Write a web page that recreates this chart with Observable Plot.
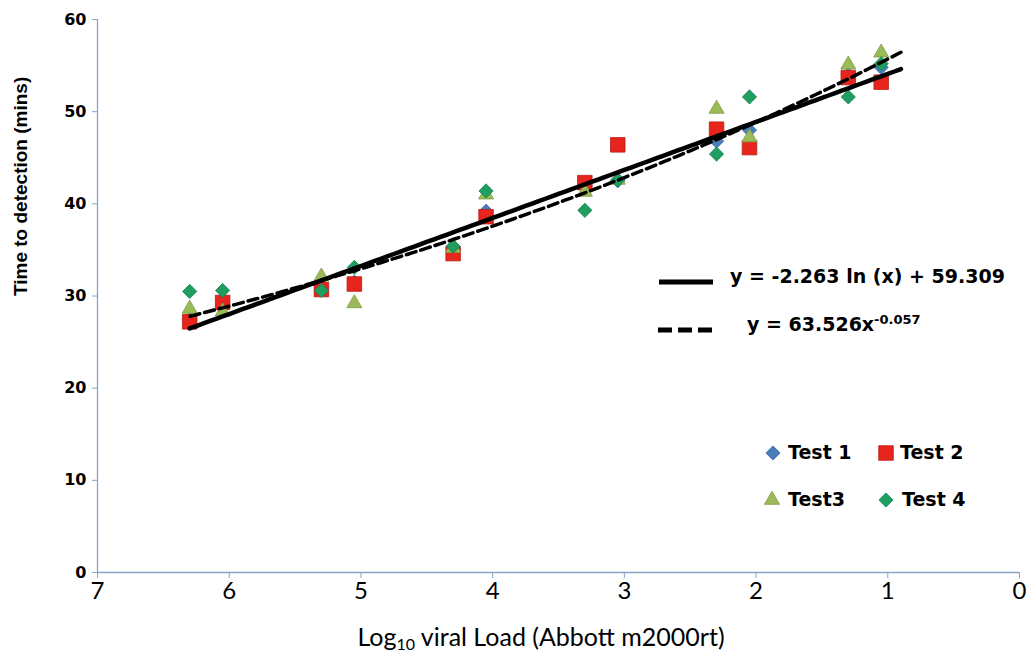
<!DOCTYPE html>
<html>
<head>
<meta charset="utf-8">
<script src="https://cdn.jsdelivr.net/npm/d3@7"></script>
<script src="https://cdn.jsdelivr.net/npm/@observablehq/plot@0.6"></script>
<style>
  body { margin: 0; background: #fff; }
  #chart { position: relative; width: 1026px; height: 653px; }
  .ov { position: absolute; white-space: nowrap; color: #000; line-height: 1; }
  .eq, .lg { font-family: "DejaVu Sans", sans-serif; font-weight: bold; font-size: 19px; }
  .eq sup { font-size: 13px; position: relative; top: -2px; vertical-align: top; }
  .xlabel { font-family: Lato, "Open Sans", sans-serif; font-size: 25px; transform: translateX(-50%); }
  .xlabel sub { font-size: 16px; vertical-align: -4px; }
</style>
</head>
<body>
<div id="chart"></div>
<script>
// Log10 viral load of each dilution (Abbott m2000rt)
const logLoad = [6.3, 6.05, 5.3, 5.05, 4.3, 4.05, 3.3, 3.05, 2.3, 2.05, 1.3, 1.05];

// Time to detection (mins) for the four repeat runs
const test1 = [27.5, 29.0, 31.0, 31.5, 35.0, 39.2, 42.0, 42.5, 46.8, 48.0, 54.0, 54.8];
const test2 = [27.2, 29.3, 30.7, 31.3, 34.6, 38.6, 42.3, 46.4, 48.1, 46.1, 53.7, 53.2];
const test3 = [28.6, 28.3, 32.1, 29.2, 35.2, 41.0, 41.3, 42.6, 50.3, 47.2, 55.1, 56.4];
const test4 = [30.5, 30.6, 30.6, 33.1, 35.4, 41.4, 39.3, 42.6, 45.4, 51.6, 51.6, 55.2];

const seriesNames = ["Test 1", "Test 2", "Test3", "Test 4"];
const seriesValues = [test1, test2, test3, test4];
const seriesFill = ["#4a7ebb", "#e8251c", "#9bbb59", "#1f9e62"];
const seriesEdge = ["#3a6aa3", "#b71c15", "#7f9d45", "#17804e"];
const seriesSymbol = ["diamond2", "square", "triangle", "diamond2"];
const seriesR = [6.4, 8.2, 5.6, 6.4];

const xTicks = [7, 6, 5, 4, 3, 2, 1, 0];
const yTicks = [0, 10, 20, 30, 40, 50, 60];

// Fitted trend lines, as quoted on the chart (x = viral load in copies)
const logFit = { slope: -2.263, intercept: 59.309 };
const powerFit = { coef: 63.526, exponent: -0.057 };
const fitRange = [0.9, 6.3];

const axisColor = "#86a6c8";

const points = seriesValues.flatMap((vals, s) =>
  vals.map((v, i) => ({ series: s, load: logLoad[i], ttd: v }))
);

const fitX = d3.range(fitRange[0], fitRange[1] + 1e-9, 0.05);
const logLine = fitX.map(l => ({ load: l, ttd: logFit.slope * Math.log(Math.pow(10, l)) + logFit.intercept }));
const powerLine = fitX.map(l => ({ load: l, ttd: powerFit.coef * Math.pow(Math.pow(10, l), powerFit.exponent) }));

const chart = Plot.plot({
  width: 1026,
  height: 653,
  marginLeft: 97,
  marginRight: 7,
  marginTop: 19,
  marginBottom: 81,
  x: { domain: [7, 0] },
  y: { domain: [0, 60] },
  marks: [
    Plot.ruleX([7], { stroke: axisColor, strokeWidth: 1.3 }),
    Plot.ruleY([0], { stroke: axisColor, strokeWidth: 1.3 }),
    Plot.axisY({
      ticks: yTicks, tickSize: 5, tickPadding: 6, label: null, tickFormat: d3.format("d"),
      stroke: axisColor, fill: "#000",
      fontFamily: "DejaVu Sans", fontWeight: "bold", fontSize: 16
    }),
    Plot.axisX({
      ticks: xTicks, tickSize: 6, tickPadding: 3, label: null, tickFormat: d3.format("d"),
      stroke: axisColor, fill: "#000",
      fontFamily: "Lato", fontSize: 24
    }),
    Plot.text(["Time to detection (mins)"], {
      frameAnchor: "left", rotate: -90, dx: -77,
      fontFamily: "Liberation Sans", fontWeight: "bold", fontSize: 19, fill: "#000"
    }),
    ...seriesValues.map((_, s) =>
      Plot.dot(points.filter(d => d.series === s), {
        x: "load", y: "ttd",
        symbol: seriesSymbol[s], r: seriesR[s],
        fill: seriesFill[s], stroke: seriesEdge[s], strokeWidth: 0.8
      })
    ),
    Plot.line(powerLine, { x: "load", y: "ttd", stroke: "#000", strokeWidth: 3.5, strokeDasharray: "10,5" }),
    Plot.line(logLine, { x: "load", y: "ttd", stroke: "#000", strokeWidth: 4.5 })
  ]
});

const root = document.getElementById("chart");
root.appendChild(chart);

function overlay(html, cls, left, top) {
  const el = document.createElement("div");
  el.className = "ov " + cls;
  el.style.left = left + "px";
  el.style.top = top + "px";
  el.innerHTML = html;
  root.appendChild(el);
  return el;
}

// Trend line key
overlay('<svg width="56" height="8"><line x1="0" y1="4" x2="54" y2="4" stroke="#000" stroke-width="5"/></svg>', "", 659, 273);
overlay("y = -2.263 ln (x) + 59.309", "eq", 730, 267);
overlay('<svg width="56" height="8"><line x1="0" y1="4" x2="56" y2="4" stroke="#000" stroke-width="5" stroke-dasharray="14,6"/></svg>', "", 658, 321);
overlay("y = 63.526x<sup>-0.057</sup>", "eq", 747, 315);

// Series key
function symbolSvg(s) {
  const r = seriesR[s];
  const path = d3.symbol(d3["symbol" + seriesSymbol[s][0].toUpperCase() + seriesSymbol[s].slice(1)], r * r * Math.PI)();
  return `<svg width="22" height="22"><path transform="translate(11,11)" d="${path}" fill="${seriesFill[s]}" stroke="${seriesEdge[s]}" stroke-width="0.8"/></svg>`;
}
const keyPos = [[773, 453, 788], [886, 453, 900], [772, 500, 788], [886, 500, 902]];
seriesNames.forEach((name, s) => {
  const [cx, cy, tx] = keyPos[s];
  overlay(symbolSvg(s), "", cx - 11, cy - 11);
  overlay(name, "lg", tx, cy - 10);
});

// x-axis title
overlay("Log<sub>10</sub> viral Load (Abbott m2000rt)", "xlabel", 541, 624);
</script>
</body>
</html>
